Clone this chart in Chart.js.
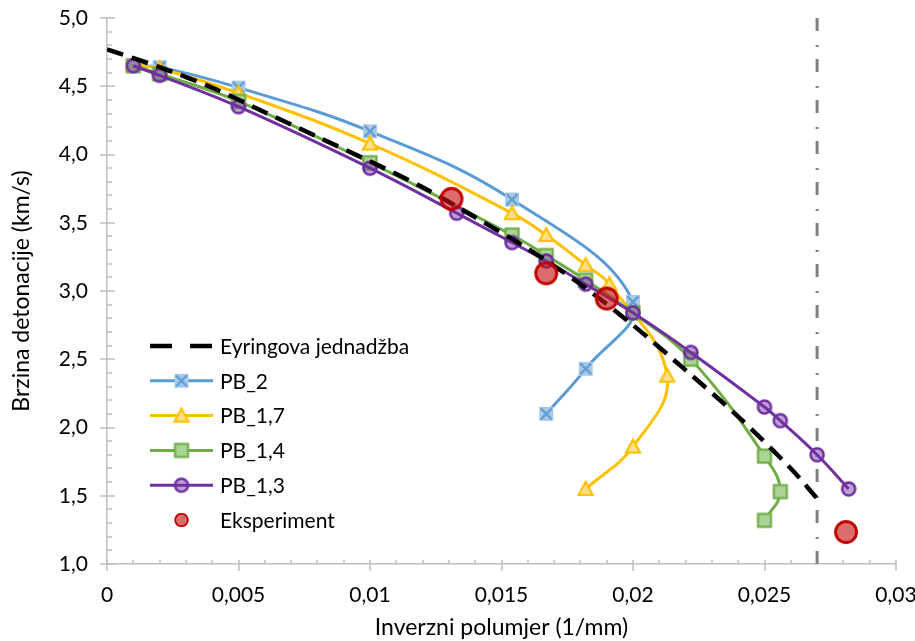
<!DOCTYPE html>
<html>
<head>
<meta charset="utf-8">
<script src="https://cdn.jsdelivr.net/npm/chart.js@4/dist/chart.umd.min.js"></script>
<style>
  html, body { margin: 0; padding: 0; background: #fff; }
  #wrap { width: 915px; height: 641px; }
</style>
</head>
<body>
<div id="wrap"><canvas id="chart" width="915" height="641"></canvas></div>
<script>
// values
const eyringX = [0, 0.002, 0.004, 0.006, 0.008, 0.010, 0.012, 0.014, 0.016, 0.018, 0.020, 0.022, 0.024, 0.026, 0.027];
const eyringY = [4.77, 4.64, 4.49, 4.31, 4.13, 3.95, 3.76, 3.54, 3.31, 3.05, 2.75, 2.42, 2.08, 1.70, 1.48];

const pb2X = [0.001, 0.002, 0.005, 0.010, 0.0154, 0.0200, 0.0182, 0.0167];
const pb2Y = [4.65, 4.64, 4.49, 4.17, 3.67, 2.92, 2.43, 2.10];

const pb17X = [0.001, 0.002, 0.005, 0.010, 0.0154, 0.0167, 0.0182, 0.0191, 0.0213, 0.0200, 0.0182];
const pb17Y = [4.66, 4.63, 4.45, 4.08, 3.57, 3.41, 3.19, 3.05, 2.38, 1.86, 1.55];

const pb14X = [0.001, 0.002, 0.005, 0.010, 0.0154, 0.0167, 0.0182, 0.0200, 0.0222, 0.0250, 0.0256, 0.0250];
const pb14Y = [4.65, 4.59, 4.39, 3.94, 3.41, 3.26, 3.08, 2.84, 2.50, 1.79, 1.53, 1.32];

const pb13X = [0.001, 0.002, 0.005, 0.010, 0.0133, 0.0154, 0.0167, 0.0182, 0.0200, 0.0222, 0.0250, 0.0256, 0.0270, 0.0282];
const pb13Y = [4.65, 4.58, 4.35, 3.90, 3.57, 3.355, 3.22, 3.05, 2.84, 2.55, 2.15, 2.05, 1.80, 1.55];

const expX = [0.0131, 0.0167, 0.0190, 0.0281];
const expY = [3.675, 3.13, 2.945, 1.234];

const limitX = [0.027, 0.027];
const limitY = [1.0, 5.0];

const xTickValues = [0, 0.005, 0.01, 0.015, 0.02, 0.025, 0.03];
const xTickLabels = ['0', '0,005', '0,01', '0,015', '0,02', '0,025', '0,03'];
const yTickValues = [1.0, 1.5, 2.0, 2.5, 3.0, 3.5, 4.0, 4.5, 5.0];
const yTickLabels = ['1,0', '1,5', '2,0', '2,5', '3,0', '3,5', '4,0', '4,5', '5,0'];

const FONT = 'Lato';
const AXIS = '#bfbfbf';

function pts(xs, ys) {
    return xs.map((x, i) => ({ x: x, y: ys[i] }));
}

// marker images
function makeMarker(kind) {
    const c = document.createElement('canvas');
    const s = kind === 'exp' ? 28 : 20;
    c.width = s; c.height = s;
    const g = c.getContext('2d');
    const m = s / 2;
    if (kind === 'x') {
        g.fillStyle = '#a9c9e9';
        g.fillRect(m - 7, m - 7, 14, 14);
        g.strokeStyle = '#5b9bd5';
        g.lineWidth = 2.2;
        g.beginPath();
        g.moveTo(m - 5.5, m - 5.5); g.lineTo(m + 5.5, m + 5.5);
        g.moveTo(m + 5.5, m - 5.5); g.lineTo(m - 5.5, m + 5.5);
        g.stroke();
    } else if (kind === 'tri') {
        g.fillStyle = '#ffe08a';
        g.strokeStyle = '#ffc000';
        g.lineWidth = 2.2;
        g.beginPath();
        g.moveTo(m, m - 7); g.lineTo(m + 7, m + 6); g.lineTo(m - 7, m + 6);
        g.closePath();
        g.fill(); g.stroke();
    } else if (kind === 'sq') {
        g.fillStyle = '#acd396';
        g.strokeStyle = '#70ad47';
        g.lineWidth = 2.2;
        g.fillRect(m - 6.5, m - 6.5, 13, 13);
        g.strokeRect(m - 6.5, m - 6.5, 13, 13);
    } else if (kind === 'circ') {
        g.fillStyle = 'rgba(112,48,160,0.45)';
        g.strokeStyle = '#7030a0';
        g.lineWidth = 2.6;
        g.beginPath(); g.arc(m, m, 6.5, 0, Math.PI * 2);
        g.fill(); g.stroke();
    } else {
        g.fillStyle = 'rgba(200,20,20,0.62)';
        g.strokeStyle = '#c00000';
        g.lineWidth = 2.8;
        g.beginPath(); g.arc(m, m, 10.5, 0, Math.PI * 2);
        g.fill(); g.stroke();
    }
    return c;
}

const mkX = makeMarker('x'), mkTri = makeMarker('tri'), mkSq = makeMarker('sq'),
      mkCirc = makeMarker('circ'), mkExp = makeMarker('exp');

// ticks crossing the axes like in Excel
const axisTicks = {
    id: 'axisTicks',
    beforeDatasetsDraw(chart) {
        const ctx = chart.ctx, xs = chart.scales.x, ys = chart.scales.y;
        const a = chart.chartArea;
        ctx.save();
        ctx.strokeStyle = AXIS;
        ctx.lineWidth = 1.5;
        ctx.beginPath();
        for (let i = 0; i <= 30; i++) {
            const px = Math.round(xs.getPixelForValue(i / 1000));
            if (i % 5 === 0) { ctx.moveTo(px, a.bottom - 4); ctx.lineTo(px, a.bottom + 7); }
            else { ctx.moveTo(px, a.bottom - 4); ctx.lineTo(px, a.bottom); }
        }
        for (let i = 10; i <= 50; i++) {
            const py = Math.round(ys.getPixelForValue(i / 10));
            if (i % 5 === 0) { ctx.moveTo(a.left - 7, py); ctx.lineTo(a.left + 8, py); }
            else { ctx.moveTo(a.left, py); ctx.lineTo(a.left + 5, py); }
        }
        ctx.stroke();
        ctx.restore();
    }
};

// legend drawn inside the plot area
const innerLegend = {
    id: 'innerLegend',
    afterDraw(chart) {
        const ctx = chart.ctx;
        const a = chart.chartArea;
        const x0 = a.left + 43, x1 = a.left + 106, y0 = 346, dy = 34.8;
        ctx.save();
        ctx.font = '21px ' + FONT;
        ctx.textBaseline = 'middle';
        ctx.fillStyle = '#000';
        chart.data.datasets.forEach((ds) => {
            if (ds.hideLegend) return;
            const y = y0 + ds.legendRow * dy;
            if (ds.showLine) {
                ctx.strokeStyle = ds.borderColor;
                ctx.lineWidth = ds.borderWidth;
                ctx.setLineDash(ds.legendDash || []);
                ctx.beginPath(); ctx.moveTo(x0, y); ctx.lineTo(x1, y); ctx.stroke();
                ctx.setLineDash([]);
            }
            if (ds.pointStyle instanceof HTMLCanvasElement) {
                const img = ds.pointStyle;
                const w = ds.legendRow === 5 ? img.width * 0.6 : img.width;
                ctx.drawImage(img, (x0 + x1) / 2 - w / 2, y - w / 2, w, w);
            }
            ctx.fillText(ds.label, x1 + 7, y + 1);
        });
        ctx.restore();
    }
};

const lineDs = (label, xs, ys, color, marker, row, order) => ({
    label: label, data: pts(xs, ys), showLine: true, borderColor: color, borderWidth: 3,
    tension: 0.4, pointStyle: marker, pointRadius: 7, pointHoverRadius: 7,
    legendRow: row, order: order
});

new Chart(document.getElementById('chart'), {
    type: 'scatter',
    data: {
        datasets: [
            { label: 'Eksperiment', data: pts(expX, expY), showLine: false, pointStyle: mkExp,
              pointRadius: 12, legendRow: 5, order: 0 },
            { label: 'Eyringova jednadžba', data: pts(eyringX, eyringY), showLine: true,
              borderColor: '#000', borderWidth: 4.5, borderDash: [17, 9], legendDash: [22, 18],
              tension: 0.3, pointRadius: 0, legendRow: 0, order: 1 },
            lineDs('PB_1,3', pb13X, pb13Y, '#7030a0', mkCirc, 4, 2),
            lineDs('PB_1,4', pb14X, pb14Y, '#70ad47', mkSq, 3, 3),
            lineDs('PB_1,7', pb17X, pb17Y, '#ffc000', mkTri, 2, 4),
            lineDs('PB_2', pb2X, pb2Y, '#5b9bd5', mkX, 1, 5),
            { label: 'limit', data: pts(limitX, limitY), showLine: true, borderColor: '#808080',
              borderWidth: 3, borderDash: [13, 12, 2, 14], pointRadius: 0, hideLegend: true, order: 6 }
        ]
    },
    options: {
        responsive: false,
        animation: false,
        layout: { padding: { left: 0, right: 19, top: 18, bottom: 0 } },
        plugins: { legend: { display: false }, tooltip: { enabled: false } },
        scales: {
            x: {
                type: 'linear', min: 0, max: 0.03,
                afterBuildTicks: s => { s.ticks = xTickValues.map(v => ({ value: v })); },
                afterFit: s => { s.height = 77; s.paddingLeft = 0; s.paddingRight = 0; },
                ticks: { callback: (v, i) => xTickLabels[i], padding: 19, color: '#000',
                         font: { family: FONT, size: 21 }, maxRotation: 0, autoSkip: false },
                grid: { drawOnChartArea: false, drawTicks: false },
                border: { color: AXIS, width: 1.5 },
                title: { display: true, text: 'Inverzni polumjer (1/mm)', color: '#000',
                         font: { family: FONT, size: 23 }, padding: { top: 0, bottom: 0 } }
            },
            y: {
                type: 'linear', min: 1, max: 5,
                afterBuildTicks: s => { s.ticks = yTickValues.map(v => ({ value: v })); },
                afterFit: s => { s.width = 107; s.paddingTop = 0; s.paddingBottom = 0; },
                ticks: { callback: (v, i) => yTickLabels[i], padding: 19, color: '#000',
                         font: { family: FONT, size: 21 }, autoSkip: false },
                grid: { drawOnChartArea: false, drawTicks: false },
                border: { color: AXIS, width: 1.5 },
                title: { display: true, text: 'Brzina detonacije (km/s)', color: '#000',
                         font: { family: FONT, size: 23 }, padding: { top: 8, bottom: 0 } }
            }
        }
    },
    plugins: [axisTicks, innerLegend]
});
</script>
</body>
</html>
